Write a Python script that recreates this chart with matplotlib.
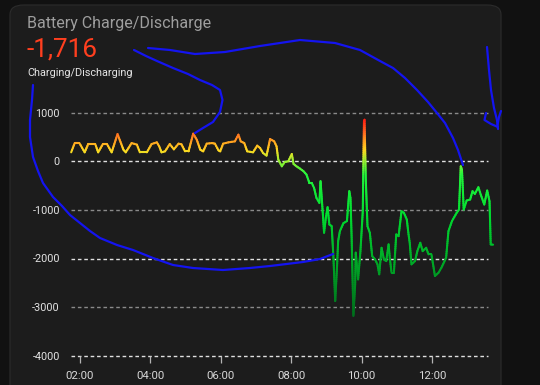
import numpy as np
import matplotlib
matplotlib.use("Agg")
import matplotlib.pyplot as plt
from matplotlib.collections import LineCollection
from matplotlib.colors import LinearSegmentedColormap, Normalize
from matplotlib.patches import FancyBboxPatch
from matplotlib.lines import Line2D

plt.rcParams['font.family'] = ['Roboto', 'DejaVu Sans']
plt.rcParams['lines.scale_dashes'] = False

# battery power, W (positive = charging)
times = ["01:45", "01:51", "01:59", "02:08", "02:14", "02:26", "02:31", "02:39", "02:46", "02:54",
         "03:04", "03:14", "03:18", "03:28", "03:37", "03:42", "03:54", "04:02", "04:11", "04:15",
         "04:19", "04:25", "04:33", "04:40", "04:48", "04:53", "04:59", "05:05", "05:13", "05:19",
         "05:25", "05:30", "05:36", "05:45", "05:50", "05:56", "05:59", "06:04", "06:13", "06:24",
         "06:30", "06:34", "06:40", "06:45", "06:55", "07:02", "07:07", "07:12", "07:18", "07:24",
         "07:31", "07:35", "07:38", "07:44", "07:49", "07:55", "08:01", "08:04", "08:09", "08:15",
         "08:21", "08:26", "08:31", "08:35", "08:39", "08:43", "08:48", "08:50", "08:54", "08:56",
         "08:59", "09:02", "09:05", "09:09", "09:12", "09:15", "09:18", "09:20", "09:23", "09:29",
         "09:35", "09:39", "09:41", "09:43", "09:46", "09:49", "09:50", "09:54", "09:58", "10:02",
         "10:04", "10:05", "10:07", "10:10", "10:14", "10:18", "10:23", "10:27", "10:30", "10:34",
         "10:38", "10:42", "10:46", "10:48", "10:51", "10:55", "10:59", "11:03", "11:05", "11:08",
         "11:12", "11:17", "11:20", "11:22", "11:25", "11:31", "11:35", "11:40", "11:44", "11:50",
         "11:54", "11:59", "12:05", "12:11", "12:16", "12:24", "12:28", "12:34", "12:42", "12:46",
         "12:49", "12:51", "12:54", "12:59", "13:05", "13:09", "13:13", "13:19", "13:23", "13:29",
         "13:34", "13:38", "13:40", "13:44"]
values = [185, 375, 375, 185, 355, 355, 185, 355, 355, 185,
          560, 240, 185, 375, 343, 185, 185, 355, 390, 308,
          185, 205, 355, 246, 363, 349, 205, 205, 569, 445,
          240, 205, 363, 375, 363, 226, 205, 363, 390, 410,
          548, 410, 375, 205, 185, 322, 273, 170, 117, 458,
          410, 308, 35, -103, -14, 0, 150, -55, -103, -150,
          -205, -273, -445, -445, -548, -753, -856, -410, -1095, -1470,
          -1165, -945, -1300, -1335, -1985, -2875, -2190, -1640, -1437, -1273,
          -1230, -615, -753, -1575, -3180, -2530, -1880, -2430, -1850, -1025,
          820, 855, -343, -1335, -1470, -1950, -2020, -2120, -2325, -1780,
          -2020, -2053, -1710, -1985, -2293, -2293, -1505, -1540, -1335, -1027,
          -1061, -1197, -1505, -1677, -2120, -2053, -1848, -1677, -1848, -1780,
          -1915, -1915, -2360, -2293, -2190, -1985, -1437, -1230, -1061, -992,
          -103, -170, -992, -807, -786, -615, -671, -534, -684, -889,
          -602, -821, -1710, -1716]

yticks = [1000, 0, -1000, -2000, -3000, -4000]
xticks = [2, 4, 6, 8, 10, 12]
xticklabels = ["02:00", "04:00", "06:00", "08:00", "10:00", "12:00"]

title = "Battery Charge/Discharge"
current = "-1,716"
subtitle = "Charging/Discharging"

W, H = 540, 385
fig = plt.figure(figsize=(W / 100, H / 100), dpi=100)
fig.patch.set_facecolor('#111111')

# card
card = FancyBboxPatch((10 / W, -0.1), 491 / W, 1.1 - 5 / H,
                      boxstyle="round,pad=0,rounding_size=0.025",
                      transform=fig.transFigure, facecolor='#1c1c1c',
                      edgecolor='#2c2c2c', linewidth=0.8, zorder=-5)
fig.add_artist(card)

fig.text(27 / W, 1 - 28 / H, title, color='#9e9e9e', fontsize=11.5)
fig.text(26.5 / W, 1 - 56.5 / H, current, color='#ff3f1f', fontsize=18.8)
fig.text(27 / W, 1 - 76.5 / H, subtitle, color='#e6e6e6', fontsize=7.8)

ax = fig.add_axes([71 / W, 1 - 355.7 / H, 417 / W, (355.7 - 112.7) / H])
ax.set_zorder(1)
ax.set_facecolor('none')
for s in ax.spines.values():
    s.set_visible(False)

hours = np.array([int(t[:2]) + int(t[3:]) / 60 for t in times])
vals = np.array(values, dtype=float)

ax.set_xlim(1 + 44.7 / 60, 13 + 35.4 / 60)
ax.set_ylim(-4000, 1000)

for i, yv in enumerate(yticks):
    col = '#8a8a8a' if i % 2 == 0 else '#e0e0e0'
    ax.axhline(yv, color=col, lw=1.0, dashes=(2.6, 2.0), zorder=1, clip_on=False)

# value-coloured line
cmap = LinearSegmentedColormap.from_list('pw', [
    (0.00, '#00661a'),
    (0.28, '#00a626'),
    (0.52, '#00dc30'),
    (0.72, '#22f53c'),
    (0.795, '#a8f030'),
    (0.84, '#ffd820'),
    (0.885, '#ffa020'),
    (0.93, '#ff6420'),
    (1.00, '#ff1010')])
norm = Normalize(-3300, 900)
segs, cols = [], []
for i in range(len(hours) - 1):
    n = int(max(2, abs(vals[i + 1] - vals[i]) / 40))
    xs = np.linspace(hours[i], hours[i + 1], n + 1)
    ys = np.linspace(vals[i], vals[i + 1], n + 1)
    for k in range(n):
        segs.append([(xs[k], ys[k]), (xs[k + 1], ys[k + 1])])
        cols.append(cmap(norm((ys[k] + ys[k + 1]) / 2)))
lc = LineCollection(segs, colors=cols, linewidths=1.5, capstyle='round',
                    joinstyle='round', zorder=3, clip_on=False)
ax.add_collection(lc)

ax.set_yticks(yticks)
ax.set_yticklabels([str(v) for v in yticks])
ax.tick_params(axis='y', length=0, pad=8, labelcolor='#e2e2e2', labelsize=7.8)
ax.set_xticks(xticks)
ax.set_xticklabels(xticklabels)
ax.tick_params(axis='x', length=5, width=0.9, color='#b4b4b4', pad=6,
               labelcolor='#d8d8d8', labelsize=8.2)

# hand-drawn annotations on the screenshot (pixel coords)
scribbles = [
    [(148, 48), (170, 50), (195, 54), (225, 52), (260, 46), (300, 40), (335, 43),
     (360, 50), (380, 61), (393, 68), (405, 78), (417, 90), (428, 102), (437, 113),
     (445, 123), (453, 138), (458, 150), (463, 165)],
    [(134, 50), (146, 56), (157, 61), (173, 68), (188, 74), (200, 80), (212, 85),
     (220, 90), (222.5, 100), (220, 112), (213, 122), (203, 128), (195, 133)],
    [(33, 85), (32, 100), (30, 120), (30, 137), (33, 157), (38, 171), (43, 183),
     (53, 197), (62, 206), (70, 215), (80, 223), (90, 231), (100, 238), (117, 245),
     (133, 250), (153, 258), (173, 265), (193, 268), (223, 270), (250, 268),
     (270, 266), (303, 262), (320, 259), (333, 254)],
    [(487, 47), (489, 70), (491, 90), (494, 108), (497, 120), (498, 129)],
    [(486, 113), (484.5, 120), (491, 124), (498, 127)],
    [(501, 111), (499, 117), (497.5, 125)],
]
for path in scribbles:
    px = np.array(path)
    fig.add_artist(Line2D(px[:, 0] / W, 1 - px[:, 1] / H, transform=fig.transFigure,
                          color='#1414f0', lw=1.6, solid_capstyle='round',
                          solid_joinstyle='round', zorder=10))

fig.savefig('out.png', dpi=100, facecolor=fig.get_facecolor())
